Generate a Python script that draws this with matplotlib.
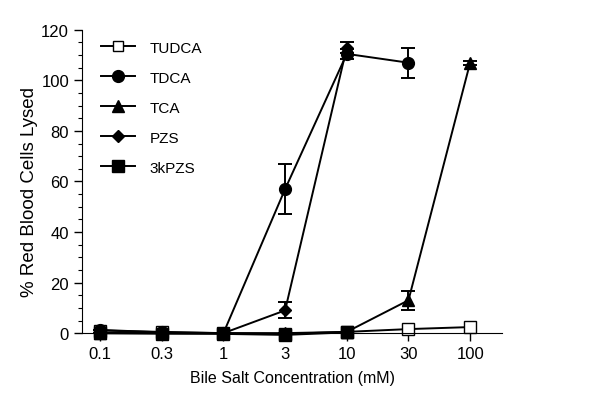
import numpy as np
import matplotlib
matplotlib.use("Agg")
import matplotlib.pyplot as plt
from matplotlib.ticker import MultipleLocator
from matplotlib.lines import Line2D

plt.rcParams['font.family'] = ['Liberation Sans', 'DejaVu Sans']

# concentrations (mM), plotted at equal spacing
conc = ["0.1", "0.3", "1", "3", "10", "30", "100"]

# % red blood cells lysed
tudca = [1.0, 0.5, 0.0, -0.3, 0.5, 1.6, 2.4]
tdca = [1.3, 0.3, 0.0, 57.0, 110.5, 107.0]
tdca_err = [0, 0, 0, 10.0, 2.0, 6.0]
tca = [0.0, 0.0, 0.0, 0.0, 0.5, 13.0, 107.0]
tca_err = [0, 0, 0, 0, 0, 3.7, 0.8]
pzs = [0.0, 0.0, 0.0, 9.0, 113.0]
pzs_err = [0, 0, 0, 3.2, 2.0]
kpzs = [0.0, -0.2, -0.3, -0.7, 0.3]

fig = plt.figure(figsize=(6, 4.06), dpi=100)
ax = fig.add_axes([0.137, 0.177, 0.70, 0.747])

x = np.arange(len(conc))
lw = 1.4
eb = dict(color='black', lw=lw, capsize=5, elinewidth=lw, capthick=lw,
          clip_on=False)

ax.errorbar(x[:len(tudca)], tudca, marker='s', ms=8, mfc='white', mew=1.0, **eb)
ax.errorbar(x[:len(tdca)], tdca, yerr=tdca_err, marker='o', ms=8.5, **eb)
ax.errorbar(x[:len(tca)], tca, yerr=tca_err, marker='^', ms=8.5, **eb)
ax.errorbar(x[:len(pzs)], pzs, yerr=pzs_err, marker='D', ms=6.5, **eb)
ax.errorbar(x[:len(kpzs)], kpzs, marker='s', ms=8, **eb)

ax.set_xlim(-0.29, 6.52)
ax.set_ylim(0, 120)
ax.set_xticks(x)
ax.set_xticklabels(conc)
ax.yaxis.set_major_locator(MultipleLocator(20))
ax.yaxis.set_minor_locator(MultipleLocator(5))
ax.tick_params(axis='both', labelsize=12, direction='out', length=6, width=1)
ax.tick_params(axis='y', which='minor', length=3, width=0.8)
ax.spines['top'].set_visible(False)
ax.spines['right'].set_visible(False)

ax.set_xlabel("Bile Salt Concentration (mM)", fontsize=11.5, labelpad=6)
ax.set_ylabel("% Red Blood Cells Lysed", fontsize=13.5)
ax.yaxis.set_label_coords(-0.105, 0.47)

# legend handles without error bars
handles = [
    Line2D([], [], color='black', lw=lw, marker='s', ms=7, mfc='white', mew=1.0),
    Line2D([], [], color='black', lw=lw, marker='o', ms=8.5),
    Line2D([], [], color='black', lw=lw, marker='^', ms=8.5),
    Line2D([], [], color='black', lw=lw, marker='D', ms=6.5),
    Line2D([], [], color='black', lw=lw, marker='s', ms=8),
]
names = ["TUDCA", "TDCA", "TCA", "PZS", "3kPZS"]
ax.legend(handles, names, loc='upper left', bbox_to_anchor=(0.012, 1.01),
          frameon=False, fontsize=11, handlelength=2.2, labelspacing=1.05,
          handletextpad=1.0)

plt.savefig("out.png", dpi=100)
